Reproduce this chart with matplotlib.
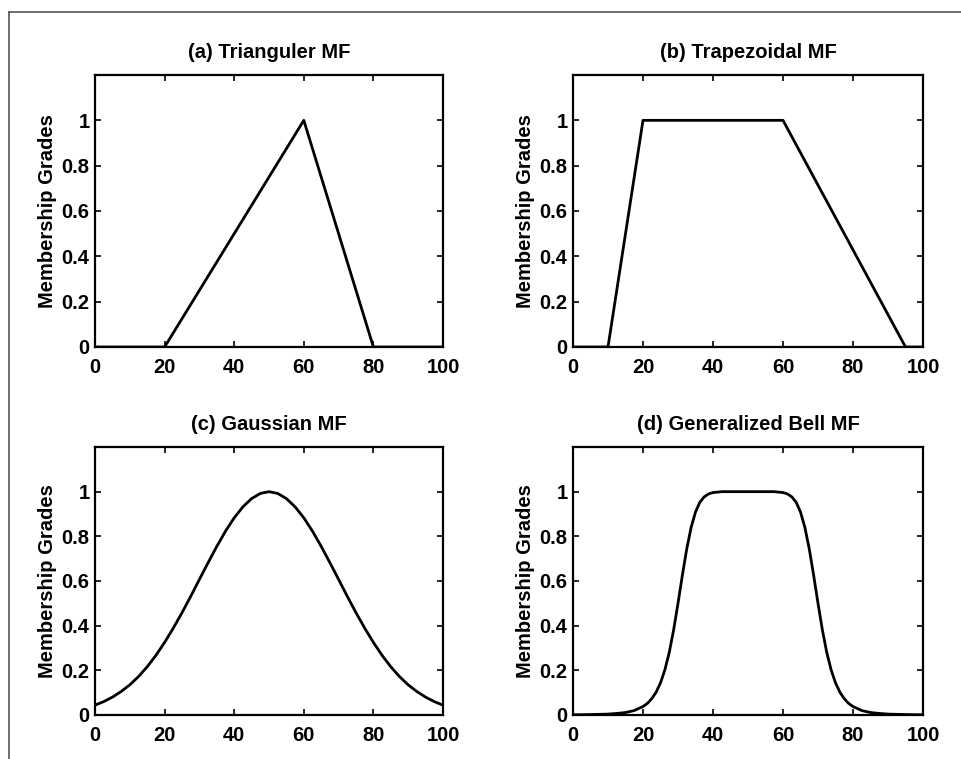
import matplotlib
matplotlib.use("Agg")
import matplotlib.pyplot as plt
from matplotlib.lines import Line2D

# values
tri_x = [0, 20, 60, 80, 100]
tri_y = [0, 0, 1, 0, 0]

trap_x = [0, 10, 20, 60, 95, 100]
trap_y = [0, 0, 1, 1, 0, 0]

gauss_x = [0, 2.5, 5, 7.5, 10, 12.5, 15, 17.5, 20, 22.5, 25, 27.5, 30, 32.5, 35, 37.5,
           40, 42.5, 45, 47.5, 50, 52.5, 55, 57.5, 60, 62.5, 65, 67.5, 70, 72.5, 75,
           77.5, 80, 82.5, 85, 87.5, 90, 92.5, 95, 97.5, 100]
gauss_y = [0.044, 0.060, 0.080, 0.105, 0.135, 0.172, 0.216, 0.267, 0.325, 0.389, 0.458,
           0.531, 0.607, 0.682, 0.755, 0.823, 0.883, 0.932, 0.969, 0.992, 1.0,
           0.992, 0.969, 0.932, 0.883, 0.823, 0.755, 0.682, 0.607, 0.531, 0.458,
           0.389, 0.325, 0.267, 0.216, 0.172, 0.135, 0.105, 0.080, 0.060, 0.044]

bell_x = [0, 5, 10, 12.5, 15, 17.5, 20, 21.25, 22.5, 23.75, 25, 26.25, 27.5, 28.75,
          30, 31.25, 32.5, 33.75, 35, 36.25, 37.5, 38.75, 40, 42.5, 45, 50,
          55, 57.5, 60, 61.25, 62.5, 63.75, 65, 66.25, 67.5, 68.75, 70, 71.25,
          72.5, 73.75, 75, 76.25, 77.5, 78.75, 80, 82.5, 85, 87.5, 90, 95, 100]
bell_y = [0.001, 0.002, 0.004, 0.007, 0.011, 0.020, 0.038, 0.052, 0.073, 0.102, 0.144,
          0.202, 0.280, 0.381, 0.500, 0.626, 0.744, 0.840, 0.909, 0.953, 0.977,
          0.990, 0.996, 1.0, 1.0, 1.0,
          1.0, 1.0, 0.996, 0.990, 0.977, 0.953, 0.909, 0.840, 0.744, 0.626, 0.500,
          0.381, 0.280, 0.202, 0.144, 0.102, 0.073, 0.052, 0.038, 0.020, 0.011,
          0.007, 0.004, 0.002, 0.001]

titles = ["(a) Trianguler MF", "(b) Trapezoidal MF",
          "(c) Gaussian MF", "(d) Generalized Bell MF"]
xticks = [0, 20, 40, 60, 80, 100]
yticks = [0, 0.2, 0.4, 0.6, 0.8, 1]
ytick_labels = ["0", "0.2", "0.4", "0.6", "0.8", "1"]

plt.rcParams['font.family'] = ['Liberation Sans', 'DejaVu Sans']
plt.rcParams['font.weight'] = 'bold'

fig = plt.figure(figsize=(9.61, 7.59), dpi=100)

boxes = [
    [95/961, 1 - 347/759, 348/961, 272/759],
    [573/961, 1 - 347/759, 350/961, 272/759],
    [95/961, 1 - 715/759, 348/961, 268/759],
    [573/961, 1 - 715/759, 350/961, 268/759],
]
series = [(tri_x, tri_y), (trap_x, trap_y), (gauss_x, gauss_y), (bell_x, bell_y)]

for box, (xs, ys), title in zip(boxes, series, titles):
    ax = fig.add_axes(box)
    ax.plot(xs, ys, color='black', lw=2.0, solid_joinstyle='round')
    ax.set_xlim(0, 100)
    ax.set_ylim(0, 1.2)
    ax.set_xticks(xticks)
    ax.set_yticks(yticks)
    ax.set_yticklabels(ytick_labels)
    ax.tick_params(direction='in', top=True, right=True, length=4, width=1.2,
                   labelsize=14.5)
    ax.tick_params(axis='x', pad=8)
    ax.tick_params(axis='y', pad=4)
    for lab in ax.get_xticklabels() + ax.get_yticklabels():
        lab.set_fontweight('bold')
    for s in ax.spines.values():
        s.set_linewidth(1.6)
    ax.set_ylabel("Membership Grades", fontsize=14.5, fontweight='bold', labelpad=3)
    ax.set_title(title, fontsize=14.5, fontweight='bold', pad=12)

# scan border (top and left)
fig.add_artist(Line2D([9/961, 1], [1 - 12/759, 1 - 12/759], color='#555555', lw=1.2))
fig.add_artist(Line2D([9/961, 9/961], [0, 1 - 12/759], color='#555555', lw=1.2))

fig.savefig("out.png", dpi=100)
